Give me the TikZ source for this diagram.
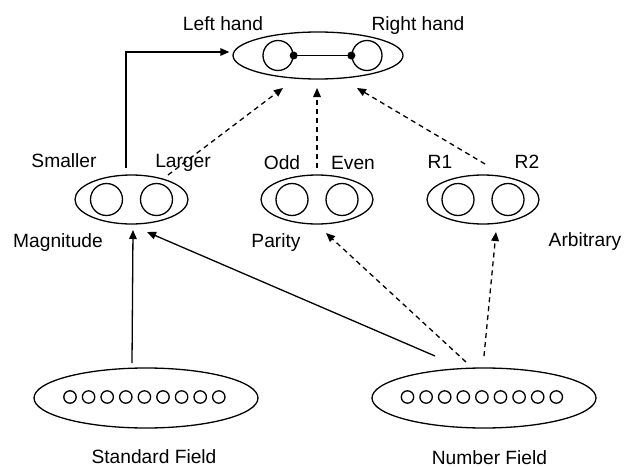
\documentclass[tikz,border=0pt]{standalone}
\usepackage{fontspec}
\setmainfont{Liberation Sans}
\usetikzlibrary{shapes.geometric}
\usetikzlibrary{arrows.meta}

\begin{document}
\begin{tikzpicture}[x=0.5pt,y=-0.5pt,line width=0.65pt,
  set/.style={draw,ellipse,inner sep=0pt},
  elem/.style={draw,circle,inner sep=0pt,minimum size=16pt},
  bead/.style={draw,circle,inner sep=0pt,minimum size=6.2pt},
  lbl/.style={anchor=base,inner sep=0pt,font=\fontsize{9.6}{11}\selectfont},
  arr/.style={-{Triangle[length=4.5pt,width=3.8pt]}},
  darr/.style={arr,dash pattern=on 2.5pt off 2pt}]
  \useasboundingbox (0,0) rectangle (632,466);
  % top set
  \node[set,minimum width=85pt,minimum height=23.5pt] (hands) at (318,55.5) {};
  \node[elem,minimum size=15pt] (lh) at (278,55.5) {};
  \node[elem,minimum size=15pt] (rh) at (367,55.5) {};
  \draw (lh.east) -- (rh.west);
  \fill (lh.east) circle (2pt) (rh.west) circle (2pt);
  \node[lbl] (lhtext) at (223,30) {Left hand};
  \node[lbl] (rhtext) at (418,30) {Right hand};
  % middle sets
  \node[set,minimum width=56.5pt,minimum height=24.5pt] (mag) at (131.5,199.5) {};
  \node[elem] (small) at (106.5,199.5) {};
  \node[elem] (large) at (156.5,199.5) {};
  \node[set,minimum width=56pt,minimum height=24.5pt] (par) at (317,199.5) {};
  \node[elem] (odd) at (292,199.5) {};
  \node[elem] (even) at (342,199.5) {};
  \node[set,minimum width=56pt,minimum height=24.5pt] (arb) at (483,199.5) {};
  \node[elem] (r1) at (458,199.5) {};
  \node[elem] (r2) at (508,199.5) {};
  \node[lbl] (smalltext) at (64,167) {Smaller};
  \node[lbl] (largetext) at (183,167) {Larger};
  \node[lbl] (oddtext) at (282,169) {Odd};
  \node[lbl] (eventext) at (353,169) {Even};
  \node[lbl] (r1text) at (440,168) {R1};
  \node[lbl] (r2text) at (527,168) {R2};
  \node[lbl] (magtext) at (58,247) {Magnitude};
  \node[lbl] (partext) at (276,247) {Parity};
  \node[lbl] (arbtext) at (585,246) {Arbitrary};
  % bottom sets
  \node[set,minimum width=112pt,minimum height=30pt] (std) at (146,398) {};
  \node[set,minimum width=112pt,minimum height=30pt] (num) at (484,398) {};
  \foreach \i in {0,...,8} {
    \node[bead] (std\i) at ({70+18.6*\i},397) {};
    \node[bead] (num\i) at ({407.5+18.6*\i},397) {};
  }
  \node[lbl] (stdtext) at (154,463) {Standard Field};
  \node[lbl] (numtext) at (489.5,464) {Number Field};
  % connector ends
  \coordinate (mag-up) at (126,168);
  \coordinate (large-up) at (168,175);
  \coordinate (par-up) at (317,168);
  \coordinate (arb-up) at (485,164);
  \coordinate (hands-in1) at (283,88);
  \coordinate (hands-in2) at (317,88);
  \coordinate (hands-in3) at (357,88);
  \coordinate (std-up) at (132,363);
  \coordinate (num-up1) at (435,356);
  \coordinate (num-up2) at (466,362);
  \coordinate (num-up3) at (484,356);
  \coordinate (mag-in1) at (133,230);
  \coordinate (mag-in2) at (147,232);
  \coordinate (par-in) at (326,233);
  \coordinate (arb-in) at (496,232);
  % connectors
  \draw[arr] (mag-up) |- ([xshift=-1.5pt,yshift=1.75pt]hands.west);
  \draw[darr] (large-up) -- (hands-in1);
  \draw[darr] (par-up) -- (hands-in2);
  \draw[darr] (arb-up) -- (hands-in3);
  \draw[arr] (std-up) -- (mag-in1);
  \draw[arr] (num-up1) -- (mag-in2);
  \draw[darr] (num-up2) -- (par-in);
  \draw[darr] (num-up3) -- (arb-in);
\end{tikzpicture}
\end{document}
